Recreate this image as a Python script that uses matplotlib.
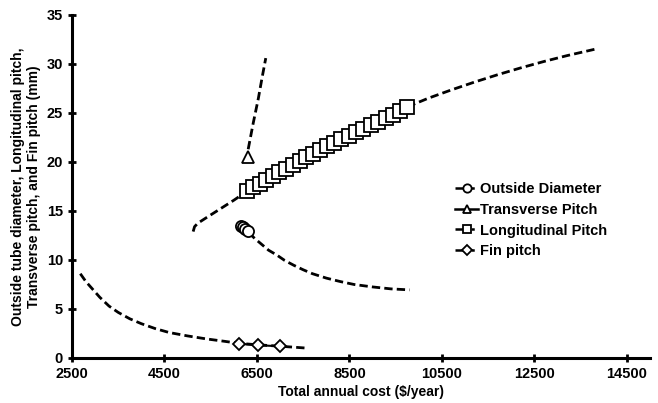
import matplotlib.pyplot as plt
from matplotlib.lines import Line2D

plt.rcParams['font.family'] = ['Liberation Sans', 'DejaVu Sans']
plt.rcParams['font.weight'] = 'bold'

# Marked points (optimisation results)
od_x = [6150, 6190, 6240, 6300]
od_y = [13.5, 13.35, 13.15, 12.95]

tp_x = [6300]
tp_y = [20.5]

lp_x = [6280, 6420, 6560, 6700, 6840, 6980, 7120, 7270, 7420, 7570, 7720, 7870,
        8020, 8170, 8320, 8480, 8640, 8800, 8960, 9120, 9280, 9440, 9590, 9740]
lp_y = [17.0, 17.4, 17.8, 18.2, 18.6, 18.95, 19.3, 19.7, 20.1, 20.5, 20.85, 21.2,
        21.6, 21.95, 22.3, 22.7, 23.05, 23.4, 23.75, 24.1, 24.45, 24.8, 25.2, 25.6]

fp_x = [6110, 6520, 6990]
fp_y = [1.45, 1.3, 1.2]

# Dashed trend curves
od_cx = [6320, 6450, 6600, 6750, 6930, 7100, 7300, 7500, 7700, 8000, 8300, 8600, 9000, 9400, 9800]
od_cy = [12.8, 12.2, 11.6, 11.0, 10.5, 9.95, 9.45, 9.0, 8.6, 8.15, 7.8, 7.5, 7.25, 7.05, 6.95]

tp_cx = [6310, 6420, 6530, 6610, 6690]
tp_cy = [21.3, 24.0, 26.5, 28.6, 30.6]

lp_cx = [5120, 5150, 5220, 5400, 5600, 5800, 6000, 6280, 7500, 8500, 9740,
         10200, 10700, 11200, 11700, 12200, 12700, 13200, 13800]
lp_cy = [12.9, 13.4, 13.75, 14.3, 14.9, 15.5, 16.1, 17.0, 20.4, 22.9, 25.6,
         26.5, 27.35, 28.15, 28.9, 29.6, 30.25, 30.85, 31.5]

fp_cx = [2680, 2800, 2950, 3100, 3300, 3500, 3750, 4000, 4300, 4600, 5000, 5400,
         5800, 6100, 6500, 7000, 7600]
fp_cy = [8.6, 7.8, 7.0, 6.2, 5.3, 4.65, 4.0, 3.5, 3.0, 2.6, 2.25, 1.95,
         1.7, 1.5, 1.35, 1.2, 1.0]

fig = plt.figure(figsize=(6.58, 4.03), dpi=100)
ax = fig.add_axes([0.1094, 0.1117, 0.8786, 0.8511])

dash = dict(color='black', lw=2.0, dashes=(3.0, 1.5))
for cx, cy in [(od_cx, od_cy), (tp_cx, tp_cy), (lp_cx, lp_cy), (fp_cx, fp_cy)]:
    ax.plot(cx, cy, **dash)

mk = dict(color='black', lw=1.5, mfc='white', mec='black', mew=1.3)
ax.plot(od_x, od_y, marker='o', ms=8, **mk)
ax.plot(tp_x, tp_y, marker='^', ms=9, **mk)
ax.plot(lp_x, lp_y, marker='s', ms=9.5, **mk)
ax.plot(fp_x, fp_y, marker='D', ms=6.5, **mk)

ax.set_xlim(2500, 15000)
ax.set_ylim(0, 35)
ax.set_xticks([2500, 4500, 6500, 8500, 10500, 12500, 14500])
ax.set_yticks(range(0, 36, 5))
ax.spines['top'].set_visible(False)
ax.spines['right'].set_visible(False)
ax.spines['left'].set_linewidth(2.2)
ax.spines['bottom'].set_linewidth(2.2)
ax.tick_params(direction='inout', length=6, width=2, labelsize=10.5)
for lab in ax.get_xticklabels() + ax.get_yticklabels():
    lab.set_fontweight('bold')

ax.set_xlabel('Total annual cost ($/year)', fontsize=10, fontweight='bold', labelpad=3)
ax.set_ylabel('Outside tube diameter, Longitudinal pitch,\nTransverse pitch, and Fin pitch (mm)',
              fontsize=10, fontweight='bold', labelpad=4)

handles = [
    Line2D([], [], color='black', lw=1.8, ls=(0, (5, 1.5, 1.2, 1.5)), marker='o', ms=6, mfc='white', mew=1.3),
    Line2D([], [], color='black', lw=1.8, marker='^', ms=6, mfc='white', mew=1.3),
    Line2D([], [], color='black', lw=1.8, ls=(0, (5, 1.5, 1.2, 1.5)), marker='s', ms=6, mfc='white', mew=1.3),
    Line2D([], [], color='black', lw=1.8, ls=(0, (5, 1.5, 1.2, 1.5)), marker='D', ms=5, mfc='white', mew=1.3),
]
labels = ['Outside Diameter', 'Transverse Pitch', 'Longitudinal Pitch', 'Fin pitch']
ax.legend(handles, labels, loc='upper left', bbox_to_anchor=(0.64, 0.55), frameon=False,
          handlelength=1.6, handletextpad=0.1, labelspacing=0.45,
          prop={'weight': 'bold', 'size': 10.5})

fig.savefig('out.png', dpi=100)
